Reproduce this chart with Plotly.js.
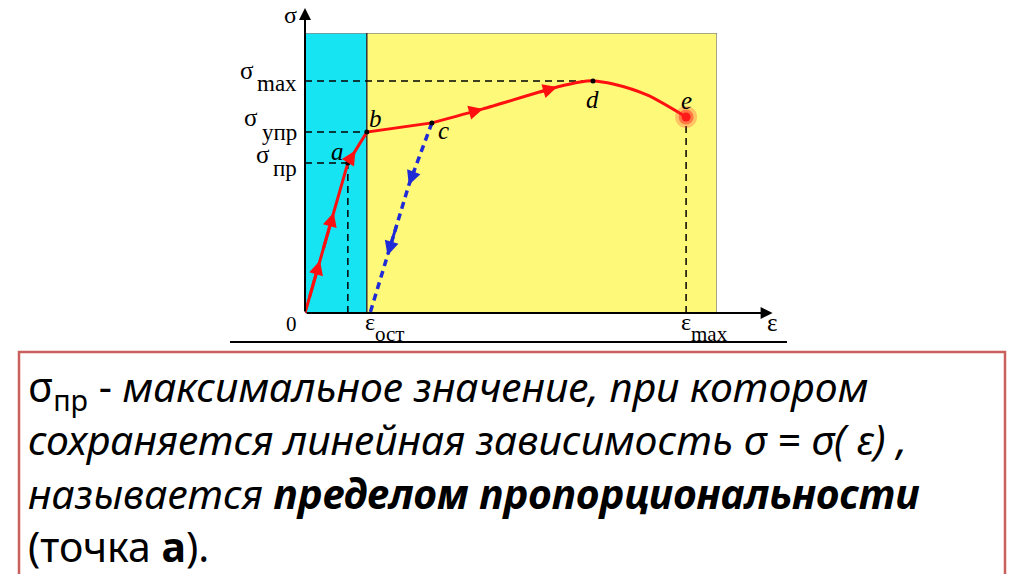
<!DOCTYPE html>
<html>
<head>
<meta charset="utf-8">
<script src="https://cdn.plot.ly/plotly-3.0.1.min.js"></script>
<style>
  html, body { margin: 0; padding: 0; background: #ffffff; }
  #chart { width: 1024px; height: 574px; }
</style>
</head>
<body>
<div id="chart"></div>
<script>
// ---- data (strain ε, stress σ in relative units) ----
const strainX = [0, 10.4, 15.0, 30.8, 43.2, 61.2, 66.8, 69.9, 74.8, 83.0, 92.5];
const stressY = [0, 53.6, 64.6, 67.9, 72.9, 80.7, 82.5, 82.9, 81.8, 77.9, 70.0];
const unloadX = [30.8, 25.2, 15.8];
const unloadY = [67.9, 45.7, 0];
const pointNames = ['a', 'b', 'c', 'd', 'e'];
const pointIdx = [1, 2, 3, 7, 10];
const sigmaTickLabels = ['max', 'упр', 'пр'];   // σmax (d), σупр (b), σпр (a)
const epsTickLabels = ['ост', 'max'];            // εост, εmax
const textLines = [
  'σ<sub>пр</sub> - <i>максимальное значение, при котором</i>',
  '<i>сохраняется линейная зависимость σ = σ( ε) ,</i>',
  '<i>называется <b>пределом пропорциональности</b></i>',
  '(точка <b>а</b>).'
];

// ---- derived ----
const A = pointIdx[0], B = pointIdx[1], C = pointIdx[2], D = pointIdx[3], E = pointIdx[4];
const xElastic = strainX[B];
const xMaxPlot = 100, yMaxPlot = 100;
const xArrowEnd = 113.5, yArrowEnd = 108.9;

function along(xs, ys, seg, t) {
  return [xs[seg] + (xs[seg + 1] - xs[seg]) * t, ys[seg] + (ys[seg + 1] - ys[seg]) * t];
}
function arrowAnn(xs, ys, seg, t, color, w) {
  const h = along(xs, ys, seg, t);
  const back = along(xs, ys, seg, Math.max(0, t - 0.25));
  return {x: h[0], y: h[1], ax: back[0], ay: back[1], xref: 'x', yref: 'y', axref: 'x', ayref: 'y',
    text: '', showarrow: true, arrowhead: 2, arrowsize: 0.95, arrowwidth: w, arrowcolor: color, standoff: 0};
}

const serif = 'Liberation Serif, DejaVu Serif, serif';
const traces = [];

// dashed guide lines
const dash = {color: '#000', width: 1.5, dash: '7px,5px'};
const guide = (xs, ys) => ({x: xs, y: ys, mode: 'lines', line: dash, hoverinfo: 'skip', cliponaxis: false});
traces.push(guide([0, strainX[D]], [stressY[D], stressY[D]]));
traces.push(guide([0, strainX[B]], [stressY[B], stressY[B]]));
traces.push(guide([0, strainX[A]], [stressY[A], stressY[A]]));
traces.push(guide([strainX[A], strainX[A]], [0, stressY[A]]));
traces.push(guide([strainX[E], strainX[E]], [0, stressY[E]]));

// unloading line (blue dashed)
traces.push({x: unloadX, y: unloadY, mode: 'lines', line: {color: '#1f2bd6', width: 3.5, dash: '7px,5px'}, hoverinfo: 'skip'});
// loading curve: straight elastic part, smooth plastic part
traces.push({x: strainX.slice(0, C + 1), y: stressY.slice(0, C + 1), mode: 'lines', line: {color: '#ff1010', width: 3}, hoverinfo: 'skip'});
traces.push({x: strainX.slice(C), y: stressY.slice(C), mode: 'lines', line: {color: '#ff1010', width: 3, shape: 'spline', smoothing: 0.8}, hoverinfo: 'skip'});
// glow at rupture
traces.push({x: [strainX[E]], y: [stressY[E]], mode: 'markers', marker: {color: 'rgba(255,40,40,0.25)', size: 22}, hoverinfo: 'skip'});
traces.push({x: [strainX[E]], y: [stressY[E]], mode: 'markers', marker: {color: 'rgba(255,30,30,0.45)', size: 15}, hoverinfo: 'skip'});
traces.push({x: [strainX[E]], y: [stressY[E]], mode: 'markers', marker: {color: '#ff1a1a', size: 9}, hoverinfo: 'skip'});
// black points a, b, c, d
traces.push({x: pointIdx.slice(0, 4).map(i => strainX[i]), y: pointIdx.slice(0, 4).map(i => stressY[i]),
  mode: 'markers', marker: {color: '#000', size: 5}, hoverinfo: 'skip', cliponaxis: false});

const ann = [];
// direction arrows
ann.push(arrowAnn(strainX, stressY, 0, 0.35, '#ff1010', 3));
ann.push(arrowAnn(strainX, stressY, 0, 0.67, '#ff1010', 3));
ann.push(arrowAnn(strainX, stressY, 1, 0.40, '#ff1010', 3));
ann.push(arrowAnn(strainX, stressY, 3, 1.0, '#ff1010', 3));
ann.push(arrowAnn(strainX, stressY, 4, 1.0, '#ff1010', 3));
ann.push(arrowAnn(unloadX, unloadY, 0, 1.0, '#1f2bd6', 3));
ann.push(arrowAnn(unloadX, unloadY, 1, 0.55, '#1f2bd6', 3));

// axes arrows
ann.push({x: xArrowEnd, y: 0, ax: 0, ay: 0, xref: 'x', yref: 'y', axref: 'x', ayref: 'y', text: '', showarrow: true,
  arrowhead: 2, arrowsize: 1.2, arrowwidth: 2, arrowcolor: '#000', standoff: 0});
ann.push({x: 0, y: yArrowEnd, ax: 0, ay: 0, xref: 'x', yref: 'y', axref: 'x', ayref: 'y', text: '', showarrow: true,
  arrowhead: 2, arrowsize: 1.2, arrowwidth: 2, arrowcolor: '#000', standoff: 0});

const lab = (x, y, text, xa, xs, ys, size) => ({x: x, y: y, xref: 'x', yref: 'y', text: text,
  showarrow: false, xanchor: xa, yanchor: 'middle', xshift: xs, yshift: ys,
  font: {family: serif, size: size, color: '#000'}});

// axis names (anchored inside axis range, shifted outward)
ann.push(lab(0, yMaxPlot, 'σ', 'center', -15, 18, 24));
ann.push(lab(xMaxPlot, 0, 'ε', 'center', 55, -9, 25));
ann.push(lab(0, 0, '0', 'right', -6, -11, 21));

// sigma tick labels
const sigVals = [stressY[D], stressY[B], stressY[A]];
const sigShiftSigma = [[-49, 10], [-45, 15], [-33, 8]];
const sigShiftSub = [[-6, -3], [-6, 0], [-6, -6]];
sigVals.forEach((v, i) => {
  ann.push(lab(0, v, 'σ', 'right', sigShiftSigma[i][0], sigShiftSigma[i][1], 25));
  ann.push(lab(0, v, sigmaTickLabels[i], 'right', sigShiftSub[i][0], sigShiftSub[i][1], 23));
});
// epsilon tick labels
const epsVals = [unloadX[unloadX.length - 1], strainX[E]];
epsVals.forEach((v, i) => {
  ann.push(lab(v, 0, 'ε', 'center', 0, -9, 24));
  ann.push(lab(v, 0, epsTickLabels[i], 'left', 3, -21, 21));
});

// point labels
const ptShift = [[-10, 11], [9, 14], [12, -8], [0, -19], [0, 16]];
pointIdx.forEach((idx, i) => {
  ann.push(lab(strainX[idx], stressY[idx], '<i>' + pointNames[i] + '</i>', 'center', ptShift[i][0], ptShift[i][1], 25));
});

// text box paragraph (one multi-line text)
ann.push({xref: 'paper', yref: 'paper', x: 26 / 1024, y: 1 - 466 / 574, xanchor: 'left', yanchor: 'middle', align: 'left',
  text: textLines.join('<br>'), showarrow: false,
  font: {family: 'Noto Sans, Open Sans, sans-serif', size: 41, color: '#000'}});

const shapes = [
  // elastic (cyan) and plastic (yellow) zones
  {type: 'rect', xref: 'x', yref: 'y', x0: 0, x1: xElastic, y0: 0, y1: yMaxPlot, fillcolor: '#16e4f2', line: {width: 0}, layer: 'below'},
  {type: 'rect', xref: 'x', yref: 'y', x0: xElastic, x1: xMaxPlot, y0: 0, y1: yMaxPlot, fillcolor: '#fff97a', line: {width: 0}, layer: 'below'},
  // gray frame top and right
  {type: 'line', xref: 'x', yref: 'y', x0: 0, x1: xMaxPlot, y0: yMaxPlot, y1: yMaxPlot, line: {color: '#8a8a8a', width: 1.5}, layer: 'below'},
  {type: 'line', xref: 'x', yref: 'y', x0: xMaxPlot, x1: xMaxPlot, y0: 0, y1: yMaxPlot, line: {color: '#8a8a8a', width: 1.5}, layer: 'below'},
  // zone divider
  {type: 'line', xref: 'x', yref: 'y', x0: xElastic, x1: xElastic, y0: 0, y1: yMaxPlot, line: {color: '#333', width: 1.5}, layer: 'below'},
  // separator under chart
  {type: 'line', xref: 'paper', yref: 'paper', x0: 230 / 1024, x1: 787 / 1024, y0: 1 - 342 / 574, y1: 1 - 342 / 574, line: {color: '#000', width: 2}},
  // text frame
  {type: 'rect', xref: 'paper', yref: 'paper', x0: 19 / 1024, x1: 1005 / 1024, y0: -0.05, y1: 1 - 352 / 574, line: {color: '#c9605e', width: 2.5}, fillcolor: 'rgba(0,0,0,0)'}
];

const layout = {
  width: 1024, height: 574,
  margin: {l: 0, r: 0, t: 0, b: 0},
  paper_bgcolor: '#ffffff', plot_bgcolor: 'rgba(0,0,0,0)',
  showlegend: false,
  xaxis: {domain: [305 / 1024, 717 / 1024], range: [0, xMaxPlot], visible: false, fixedrange: true},
  yaxis: {domain: [1 - 313 / 574, 1 - 33 / 574], range: [0, yMaxPlot], visible: false, fixedrange: true},
  shapes: shapes,
  annotations: ann
};

Plotly.newPlot('chart', traces, layout, {staticPlot: true, displayModeBar: false});
</script>
</body>
</html>
